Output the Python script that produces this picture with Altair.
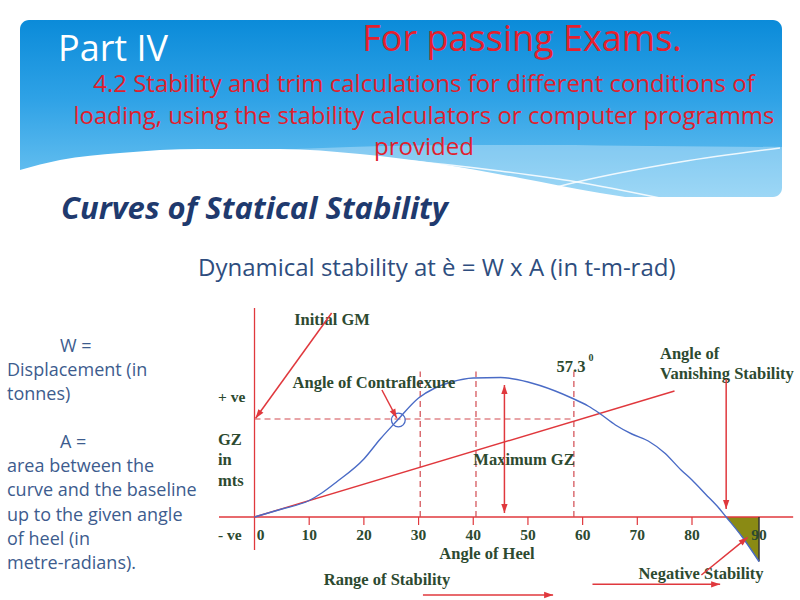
import math
import altair as alt
import pandas as pd

# ---------------- data ----------------
heel_deg = [0, 4.7, 10, 12.3, 15, 20, 23, 26, 30, 33, 36, 40, 45, 50, 55, 58, 61, 63,
            66, 69, 72, 75, 78, 80, 82, 84, 85.1, 87.5, 90]
gz_m = [0, 0.075, 0.165, 0.24, 0.35, 0.58, 0.78, 0.96, 1.19, 1.29, 1.35, 1.39, 1.395,
        1.35, 1.26, 1.19, 1.11, 1.04, 0.92, 0.83, 0.76, 0.64, 0.47, 0.37, 0.23, 0.09,
        0.0, -0.20, -0.445]
neg_deg = [85.1, 87.5, 90]
neg_gz = [0.0, -0.20, -0.445]
tick_deg = [0, 10, 20, 30, 40, 50, 60, 70, 80, 90]
tick_labels = ["0", "10", "20", "30", "40", "50", "60", "70", "80", "90"]
gm_line_deg = [0, 76.8]
gm_line_gz = [0, 1.26]
guide_deg = [30.3, 40.5, 58.4]
guide_top = 1.455
gm_level = 0.98
contraflex_deg = 26.3
contraflex_gz = 0.97
# annotation arrows: x1, y1, x2, y2 (deg, GZ), head at end
arrow_x1 = [14.1, 23.3, 45.7, 45.7, 85.1, 81.4, 30.8, 61.8]
arrow_y1 = [2.04, 1.27, 0.70, 0.70, 1.38, -0.58, -0.78, -0.673]
arrow_x2 = [0.2, 26.0, 45.7, 45.7, 85.1, 88.3, 54.6, 84.2]
arrow_y2 = [0.987, 0.99, 1.32, 0.04, 0.08, -0.203, -0.78, -0.673]

# banner decoration outlines (pixels)
wave_x = [20, 60, 120, 200, 280, 360, 440, 520, 600, 660, 700]
wave_y = [170, 160, 153, 149, 149, 154, 164, 178, 193, 202, 207]
band_x = [250, 350, 450, 550, 650, 782]
band_y = [151, 147, 145, 145, 146, 147]
line_a_x = [255, 400, 500, 577, 660]
line_a_y = [152, 160, 171, 182, 198]
line_b_x = [515, 577, 680, 780]
line_b_y = [198, 182, 162, 148]

RED = "#e0383d"
DRED = "#d24a50"
BLUE = "#4a6bc6"
GREEN = "#2d4a30"
SERIF = "Liberation Serif"
SANS = "Open Sans"

# ---------------- scales ----------------
XS = alt.Scale(domain=[-46.54, 80, 90, 96.12], range=[0, 692, 759, 800], nice=False, zero=False)
YS = alt.Scale(domain=[-0.83, 5.17], range=[600, 0], nice=False, zero=False)
PX = alt.Scale(domain=[0, 800], range=[0, 800], nice=False, zero=False)
PY = alt.Scale(domain=[0, 600], range=[0, 600], nice=False, zero=False)


def px_of(d):
    return (d + 46.54) * 692 / 126.54 if d <= 80 else 692 + (d - 80) * 6.7


def deg_of(p):
    return p * 126.54 / 692 - 46.54 if p <= 692 else 80 + (p - 692) / 6.7


one = pd.DataFrame({"a": [0]})


def txt(s, x, y, size, color, font, weight="normal", style="normal", align="left"):
    return alt.Chart(one).mark_text(
        fontSize=size, color=color, font=font, fontWeight=weight, fontStyle=style,
        align=align, baseline="middle"
    ).encode(x=alt.value(x), y=alt.value(y), text=alt.value(s))


# ---------------- banner (pixel layer) ----------------
grad = alt.Gradient(
    gradient="linear",
    stops=[alt.GradientStop(color="#0b8bd9", offset=0),
           alt.GradientStop(color="#2fa2e6", offset=0.45),
           alt.GradientStop(color="#72c6f2", offset=1)],
    x1=0, x2=0, y1=0, y2=1,
)
banner = alt.Chart(one).mark_rect(fill=grad, cornerRadius=9).encode(
    x=alt.value(20), x2=alt.value(782), y=alt.value(20), y2=alt.value(197))

band_df = pd.DataFrame({"px": band_x, "py": band_y})
band = alt.Chart(band_df).mark_area(color="white", opacity=0.3, interpolate="monotone").encode(
    x=alt.X("px:Q", scale=PX, axis=None), y=alt.Y("py:Q", scale=PY, axis=None), y2=alt.datum(197))

wave_df = pd.DataFrame({"px": wave_x, "py": wave_y})
wave = alt.Chart(wave_df).mark_area(color="white", interpolate="monotone").encode(
    x=alt.X("px:Q", scale=PX, axis=None), y=alt.Y("py:Q", scale=PY, axis=None), y2=alt.datum(215))

lines_df = pd.DataFrame({
    "px": line_a_x + line_b_x,
    "py": line_a_y + line_b_y,
    "id": ["a"] * len(line_a_x) + ["b"] * len(line_b_x),
})
wlines = alt.Chart(lines_df).mark_line(color="white", strokeWidth=1.4, opacity=0.85,
                                       interpolate="monotone").encode(
    x=alt.X("px:Q", scale=PX, axis=None), y=alt.Y("py:Q", scale=PY, axis=None), detail="id:N")

pixel_group = alt.layer(banner, band, wave, wlines)

# ---------------- diagram (data layer) ----------------
def X(f):
    return alt.X(f, scale=XS, axis=None)


def Y(f):
    return alt.Y(f, scale=YS, axis=None)


axes_df = pd.DataFrame({"x1": [-6.5, 0], "x2": [95.1, 0], "y1": [0, 2.09], "y2": [0, -0.33]})
axes = alt.Chart(axes_df).mark_rule(color=RED, strokeWidth=1.3).encode(
    x=X("x1:Q"), x2="x2:Q", y=Y("y1:Q"), y2="y2:Q")

ticks_df = pd.DataFrame({"deg": tick_deg[1:-1], "y1": 0, "y2": -0.08})
ticks = alt.Chart(ticks_df).mark_rule(color=RED, strokeWidth=1.2).encode(
    x=X("deg:Q"), y=Y("y1:Q"), y2="y2:Q")

neg_df = pd.DataFrame({"deg": neg_deg, "gz": neg_gz, "base": 0.0})
neg_area = alt.Chart(neg_df).mark_area(color="#8a8a14", opacity=1).encode(
    x=X("deg:Q"), y=Y("gz:Q"), y2="base:Q")
edge_df = pd.DataFrame({"deg": [90], "y1": [0], "y2": [neg_gz[-1]]})
edge = alt.Chart(edge_df).mark_rule(color="#333333", strokeWidth=1.5).encode(
    x=X("deg:Q"), y=Y("y1:Q"), y2="y2:Q")

guides_df = pd.DataFrame({"deg": guide_deg, "y1": 0.0, "y2": guide_top})
guides = alt.Chart(guides_df).mark_rule(color=DRED, strokeWidth=1.2, strokeDash=[6, 4]).encode(
    x=X("deg:Q"), y=Y("y1:Q"), y2="y2:Q")
hguide_df = pd.DataFrame({"x1": [0], "x2": [guide_deg[-1]], "y": [gm_level]})
hguide = alt.Chart(hguide_df).mark_rule(color=DRED, strokeWidth=1.2, strokeDash=[6, 4]).encode(
    x=X("x1:Q"), x2="x2:Q", y=Y("y:Q"))

gm_df = pd.DataFrame({"deg": gm_line_deg, "gz": gm_line_gz})
gm_line = alt.Chart(gm_df).mark_line(color=RED, strokeWidth=1.4).encode(x=X("deg:Q"), y=Y("gz:Q"))

curve_df = pd.DataFrame({"deg": heel_deg, "gz": gz_m})
curve = alt.Chart(curve_df).mark_line(color=BLUE, strokeWidth=1.4, interpolate="monotone").encode(
    x=X("deg:Q"), y=Y("gz:Q"))

circ_df = pd.DataFrame({"deg": [contraflex_deg], "gz": [contraflex_gz]})
circ = alt.Chart(circ_df).mark_point(shape="circle", size=190, filled=False, color=BLUE,
                                     strokeWidth=1.3, opacity=1).encode(x=X("deg:Q"), y=Y("gz:Q"))

arr_df = pd.DataFrame({"x1": arrow_x1, "y1": arrow_y1, "x2": arrow_x2, "y2": arrow_y2})
arrows = alt.Chart(arr_df).mark_rule(color=RED, strokeWidth=1.5).encode(
    x=X("x1:Q"), x2="x2:Q", y=Y("y1:Q"), y2="y2:Q")

# arrow heads (placed from the arrow ends)
R = 4.5
hx, hy, ha = [], [], []
for a, b, c, d in zip(arrow_x1, arrow_y1, arrow_x2, arrow_y2):
    p1, q1 = px_of(a), 517 - 100 * b
    p2, q2 = px_of(c), 517 - 100 * d
    L = math.hypot(p2 - p1, q2 - q1)
    ux, uy = (p2 - p1) / L, (q2 - q1) / L
    cx, cy = p2 - R * ux, q2 - R * uy
    hx.append(deg_of(cx))
    hy.append((517 - cy) / 100)
    ha.append(math.degrees(math.atan2(ux, -uy)) % 360)
heads_df = pd.DataFrame({"deg": hx, "gz": hy, "ang": ha})
heads = alt.Chart(heads_df).mark_point(shape="M0,-1L0.7,1L-0.7,1Z", size=81, filled=True,
                                       color=RED, opacity=1, strokeWidth=0).encode(
    x=X("deg:Q"), y=Y("gz:Q"), angle=alt.Angle("ang:Q", scale=None))

lab_df = pd.DataFrame({"deg": tick_deg[1:], "lab": tick_labels[1:]})
tick_text = alt.Chart(lab_df).mark_text(font=SERIF, fontWeight="bold", fontSize=15.5, color=GREEN,
                                        baseline="middle").encode(
    x=X("deg:Q"), y=alt.value(535), text="lab:N")
lab0_df = pd.DataFrame({"deg": tick_deg[:1], "lab": tick_labels[:1]})
tick_text0 = alt.Chart(lab0_df).mark_text(font=SERIF, fontWeight="bold", fontSize=15.5, color=GREEN,
                                          baseline="middle", dx=6).encode(
    x=X("deg:Q"), y=alt.value(535), text="lab:N")

FS = 16.5
diagram_texts = [
    txt("Initial GM", 332, 320, FS, GREEN, SERIF, "bold", align="center"),
    txt("Angle of Contraflexure", 374, 383, FS, GREEN, SERIF, "bold", align="center"),
    txt("Maximum GZ", 524, 460, FS, GREEN, SERIF, "bold", align="center"),
    txt("57.3", 571, 367, FS, GREEN, SERIF, "bold", align="center"),
    txt("0", 591, 358, 10, GREEN, SERIF, "bold", align="center"),
    txt("Angle of", 660, 354, FS, GREEN, SERIF, "bold"),
    txt("Vanishing Stability", 660, 374, FS, GREEN, SERIF, "bold"),
    txt("+ ve", 218, 397, 15.5, GREEN, SERIF, "bold"),
    txt("GZ", 218, 440, FS, GREEN, SERIF, "bold"),
    txt("in", 218, 460, FS, GREEN, SERIF, "bold"),
    txt("mts", 218, 481, FS, GREEN, SERIF, "bold"),
    txt("- ve", 218, 535, 15.5, GREEN, SERIF, "bold"),
    txt("Angle of Heel", 487, 554, FS, GREEN, SERIF, "bold", align="center"),
    txt("Range of Stability", 387, 580, FS, GREEN, SERIF, "bold", align="center"),
    txt("Negative Stability", 701, 574, FS, GREEN, SERIF, "bold", align="center"),
]

LEFT = "#3d5c8e"
LS = 18
slide_texts = [
    txt("Part IV", 58, 50, 36, "white", SANS),
    txt("For passing Exams.", 522, 40, 36, "#e5202d", SANS, align="center"),
    txt("4.2 Stability and trim calculations for different conditions of", 424, 85, 24, "#e0202d", SANS, align="center"),
    txt("loading, using the stability calculators or computer programms", 424, 117, 24, "#e0202d", SANS, align="center"),
    txt("provided", 424, 148, 24, "#e0202d", SANS, align="center"),
    txt("Curves of Statical Stability", 61, 210, 31, "#1f3a6e", SANS, "bold", "italic"),
    txt("Dynamical stability at è = W x A (in t-m-rad)", 198, 269, 24, "#2e4d7e", SANS),
    txt("W =", 60, 347, LS, LEFT, SANS),
    txt("Displacement (in", 7, 371, LS, LEFT, SANS),
    txt("tonnes)", 7, 395, LS, LEFT, SANS),
    txt("A =", 60, 443, LS, LEFT, SANS),
    txt("area between the", 7, 467, LS, LEFT, SANS),
    txt("curve and the baseline", 7, 491, LS, LEFT, SANS),
    txt("up to the given angle", 7, 516, LS, LEFT, SANS),
    txt("of heel (in", 7, 540, LS, LEFT, SANS),
    txt("metre-radians).", 7, 564, LS, LEFT, SANS),
]

diagram_group = alt.layer(
    neg_area, axes, ticks, edge, guides, hguide, gm_line, curve, circ,
    *diagram_texts, arrows, heads, tick_text, tick_text0, *slide_texts
)

chart = alt.layer(pixel_group, diagram_group).resolve_scale(
    x="independent", y="independent"
).properties(
    width=800, height=600, padding=0, autosize=alt.AutoSizeParams(type="none"),
    background="white"
).configure_view(stroke=None)

chart.save("out.html", embed_options={"renderer": "svg", "actions": False})
